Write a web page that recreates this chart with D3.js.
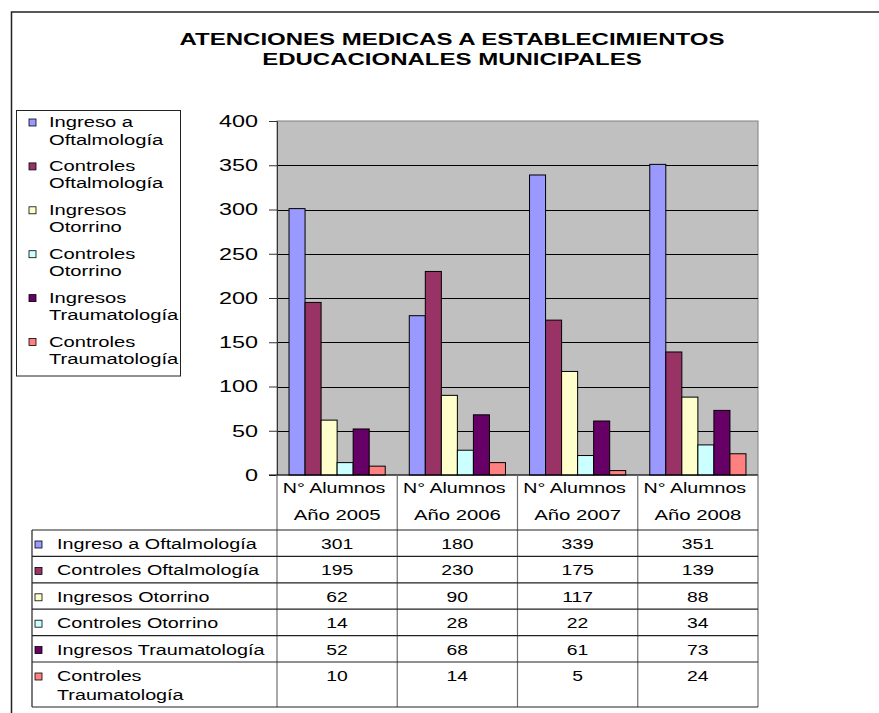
<!DOCTYPE html>
<html><head><meta charset="utf-8">
<script src="https://cdn.jsdelivr.net/npm/d3@7"></script>
<style>
html,body{margin:0;padding:0;background:#fff;}
svg text{font-family:"Liberation Sans",Arial,sans-serif;fill:#000;}
</style></head>
<body><svg id="c" width="879" height="713"></svg>
<script>
const titleLines = ["ATENCIONES MEDICAS A ESTABLECIMIENTOS", "EDUCACIONALES MUNICIPALES"];
const catHeader = "N° Alumnos";
const years = ["Año 2005", "Año 2006", "Año 2007", "Año 2008"];
const seriesNames = ["Ingreso a Oftalmología", "Controles Oftalmología", "Ingresos Otorrino", "Controles Otorrino", "Ingresos Traumatología", "Controles Traumatología"];
const legendLines = [["Ingreso a", "Oftalmología"], ["Controles", "Oftalmología"], ["Ingresos", "Otorrino"], ["Controles", "Otorrino"], ["Ingresos", "Traumatología"], ["Controles", "Traumatología"]];
const tableLines = [["Ingreso a Oftalmología"], ["Controles Oftalmología"], ["Ingresos Otorrino"], ["Controles Otorrino"], ["Ingresos Traumatología"], ["Controles", "Traumatología"]];
const ingresoOftalmologia = [301, 180, 339, 351];
const controlesOftalmologia = [195, 230, 175, 139];
const ingresosOtorrino = [62, 90, 117, 88];
const controlesOtorrino = [14, 28, 22, 34];
const ingresosTraumatologia = [52, 68, 61, 73];
const controlesTraumatologia = [10, 14, 5, 24];
const seriesValues = [ingresoOftalmologia, controlesOftalmologia, ingresosOtorrino, controlesOtorrino, ingresosTraumatologia, controlesTraumatologia];
const colors = ["#9999FF", "#993366", "#FFFFCC", "#CCFFFF", "#660066", "#FF8080"];
const yTicks = [0, 50, 100, 150, 200, 250, 300, 350, 400];

const svg = d3.select("#c");
function stretch(sel, k) {
  sel.each(function () {
    const w = this.getComputedTextLength();
    this.setAttribute("textLength", w * k);
    this.setAttribute("lengthAdjust", "spacingAndGlyphs");
  });
}

// outer chart border
svg.append("rect").attr("x", 11.5).attr("y", 12).attr("width", 900).attr("height", 800)
  .attr("fill", "none").attr("stroke", "#222").attr("stroke-width", 1.5);

// title
const tt = svg.append("g").selectAll("text").data(titleLines).join("text")
  .attr("x", 452).attr("y", (d, i) => 45 + i * 20)
  .attr("text-anchor", "middle").attr("font-size", 16).attr("font-weight", "bold").text(d => d);
stretch(tt, 1.5);

const L = 277, R = 758, T = 121, B = 475;
const x = d3.scaleBand().domain(years).range([L, R]).paddingInner(0.2).paddingOuter(0.1);
const xs = d3.scaleBand().domain(seriesNames).range([0, x.bandwidth()]).padding(0);
const y = d3.scaleLinear().domain([0, 400]).range([B, T]);

// plot area
svg.append("rect").attr("x", L).attr("y", T).attr("width", R - L).attr("height", B - T)
  .attr("fill", "#C0C0C0").attr("stroke", "#808080").attr("stroke-width", 1);

// gridlines
svg.append("g").selectAll("line").data(yTicks.filter(v => v > 0 && v < 400)).join("line")
  .attr("x1", L).attr("x2", R).attr("y1", d => Math.round(y(d)) + 0.5).attr("y2", d => Math.round(y(d)) + 0.5)
  .attr("stroke", "#000").attr("stroke-width", 1);

// bars
const groups = svg.append("g").selectAll("g").data(years).join("g")
  .attr("transform", d => `translate(${x(d)},0)`);
groups.selectAll("rect").data((yr, j) => seriesNames.map((s, i) => ({ s, i, v: seriesValues[i][j] }))).join("rect")
  .attr("x", d => xs(d.s)).attr("width", xs.bandwidth())
  .attr("y", d => y(d.v)).attr("height", d => B - y(d.v))
  .attr("fill", d => colors[d.i]).attr("stroke", "#000").attr("stroke-width", 1);

// y axis
const yAxis = svg.append("g").attr("transform", `translate(${L},0)`)
  .call(d3.axisLeft(y).tickValues(yTicks).tickSize(8).tickPadding(11));
yAxis.select(".domain").attr("stroke", "#333");
yAxis.selectAll(".tick line").attr("stroke", "#333");
yAxis.selectAll(".tick text").attr("font-size", 16).attr("font-family", "Liberation Sans, Arial, sans-serif").attr("dy", "0.33em").attr("fill", "#000");
stretch(yAxis.selectAll(".tick text"), 1.46);
// baseline axis
svg.append("line").attr("x1", L - 8).attr("x2", R).attr("y1", B).attr("y2", B).attr("stroke", "#000").attr("stroke-width", 1.2);

// category header cells
const colEdges = years.map(d => x(d) - x.step() * x.paddingInner() / 2).concat([R]);
colEdges[0] = L;
svg.append("g").selectAll("line").data(colEdges).join("line")
  .attr("x1", d => d).attr("x2", d => d).attr("y1", B).attr("y2", 707)
  .attr("stroke", "#707070").attr("stroke-width", 1.2);
const ch = svg.append("g").selectAll("text").data(years).join("text")
  .attr("x", d => x(d) + x.bandwidth() / 2 - 3).attr("y", 493).attr("text-anchor", "middle")
  .attr("font-size", 14).text(catHeader);
stretch(ch, 1.4);
const cy = svg.append("g").selectAll("text").data(years).join("text")
  .attr("x", d => x(d) + x.bandwidth() / 2).attr("y", 520).attr("text-anchor", "middle")
  .attr("font-size", 14).text(d => d);
stretch(cy, 1.45);

// data table
const tTop = 530, rowH = 26.4, tBottom = 707, tLeft = 32;
const rowTops = seriesNames.map((s, i) => tTop + i * rowH);
svg.append("g").selectAll("line").data(rowTops.concat([tBottom])).join("line")
  .attr("x1", tLeft).attr("x2", R).attr("y1", d => d).attr("y2", d => d)
  .attr("stroke", "#222").attr("stroke-width", 1.2);
svg.append("line").attr("x1", tLeft).attr("x2", tLeft).attr("y1", tTop).attr("y2", tBottom)
  .attr("stroke", "#222").attr("stroke-width", 1.2);

const rows = svg.append("g").selectAll("g").data(seriesNames).join("g")
  .attr("transform", (d, i) => `translate(0,${rowTops[i]})`);
rows.append("rect").attr("x", 35).attr("y", 11).attr("width", 7).attr("height", 7)
  .attr("fill", (d, i) => colors[i]).attr("stroke", "#000").attr("stroke-width", 0.8);
const rl = rows.selectAll("text.lab").data((d, i) => tableLines[i]).join("text").attr("class", "lab")
  .attr("x", 57).attr("y", (d, k) => 19 + k * 18.5).attr("font-size", 14).text(d => d);
stretch(rl, 1.41);
const rv = rows.selectAll("text.val").data((d, i) => seriesValues[i].map((v, j) => ({ v, yr: years[j] }))).join("text").attr("class", "val")
  .attr("x", d => x(d.yr) + x.bandwidth() / 2).attr("y", 19).attr("text-anchor", "middle")
  .attr("font-size", 14).text(d => d.v);
stretch(rv, 1.38);

// legend
const lg = svg.append("g");
lg.append("rect").attr("x", 16.5).attr("y", 110.5).attr("width", 164).attr("height", 265.5)
  .attr("fill", "#fff").attr("stroke", "#222").attr("stroke-width", 1);
const items = lg.selectAll("g").data(seriesNames).join("g")
  .attr("transform", (d, i) => `translate(0,${127 + i * 43.9})`);
items.append("rect").attr("x", 29).attr("y", -8).attr("width", 7).attr("height", 7)
  .attr("fill", (d, i) => colors[i]).attr("stroke", "#000").attr("stroke-width", 0.8);
const lt = items.selectAll("text").data((d, i) => legendLines[i]).join("text")
  .attr("x", 49).attr("y", (d, k) => k * 17.5).attr("font-size", 14).text(d => d);
stretch(lt, 1.44);
</script></body></html>
